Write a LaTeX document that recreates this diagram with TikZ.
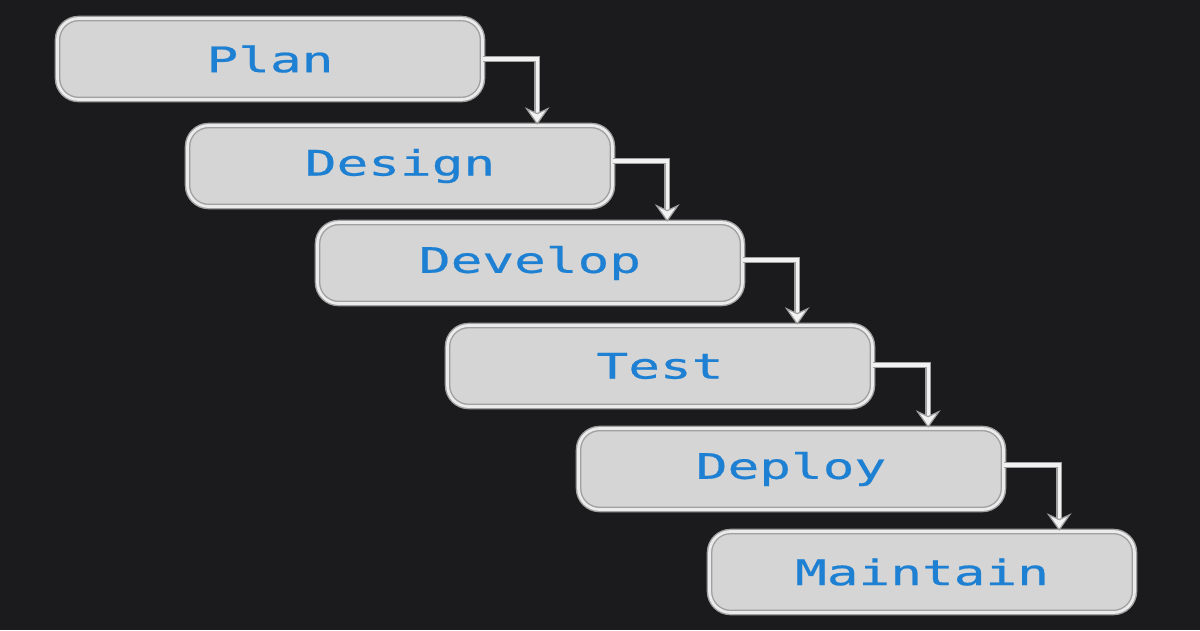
\documentclass[tikz,border=0pt]{standalone}
\usepackage{fontspec}
\newfontfamily\boxfont[FakeStretch=1.5,FakeBold=0.6]{DejaVu Sans Mono}
\usetikzlibrary{arrows.meta}
\definecolor{bg}{HTML}{1B1B1D}
\definecolor{boxfill}{HTML}{D5D5D5}
\definecolor{boxline}{HTML}{A0A0A0}
\definecolor{txt}{HTML}{1E80D2}
\tikzset{
  stage/.style={draw=boxline, double=white!92!black, double distance=1.6pt, line width=0.8pt,
    fill=boxfill, rounded corners=12pt, minimum width=8.5cm, minimum height=1.62cm,
    text=txt, font=\boxfont\fontsize{20}{24}\selectfont, inner sep=0pt},
  flow/.style={draw=boxline, double=white!95!black, double distance=1.8pt, line width=0.7pt,
    -{Stealth[length=10pt,width=14pt,open,fill=white!95!black]}}
}
\begin{document}
\begin{tikzpicture}[x=0.02cm,y=-0.02cm]
\fill[bg] (0,0) rectangle (1200,630);
\useasboundingbox (0,0) rectangle (1200,630);
\node[stage] (plan) at (270,59) {Plan};
\node[stage] (design) at (400,166) {Design};
\node[stage] (develop) at (530,263) {Develop};
\node[stage] (test) at (660,366) {Test};
\node[stage] (deploy) at (791,469) {Deploy};
\node[stage] (maintain) at (922,572) {Maintain};
\draw[flow] (plan.east) -| ([xshift=-1.52cm]design.north east);
\draw[flow] ([yshift=0.1cm]design.east) -| ([xshift=-1.52cm]develop.north east);
\draw[flow] ([yshift=0.06cm]develop.east) -| ([xshift=-1.52cm]test.north east);
\draw[flow] ([yshift=0.02cm]test.east) -| ([xshift=-1.52cm]deploy.north east);
\draw[flow] ([yshift=0.08cm]deploy.east) -| ([xshift=-1.52cm]maintain.north east);
\end{tikzpicture}
\end{document}
